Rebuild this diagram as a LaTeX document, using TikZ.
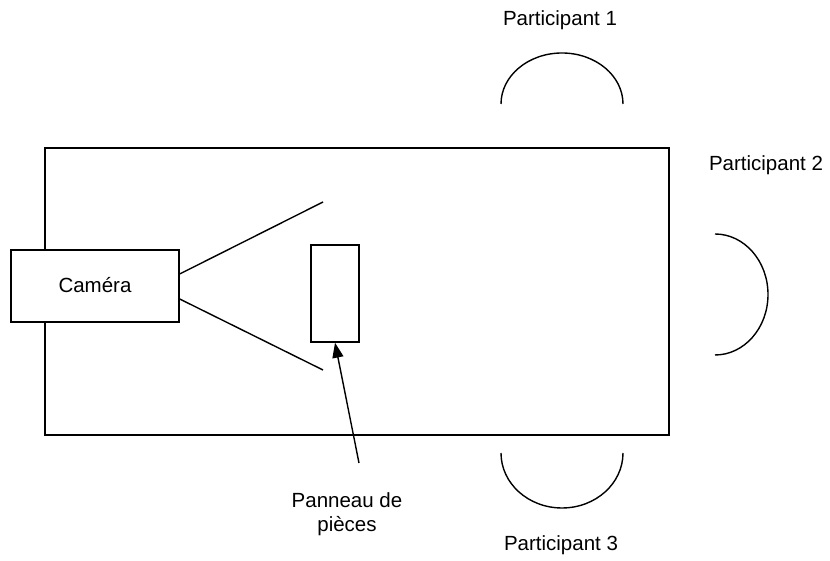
\documentclass[tikz,border=0pt]{standalone}
\usepackage{fontspec}
\setmainfont{Liberation Sans}
\usetikzlibrary{arrows.meta,calc}
\tikzset{
  ln/.style={line width=1.4pt, draw=black},
  box/.style={ln, fill=white, inner sep=0pt},
  lbl/.style={font=\fontsize{20.5}{23.5}\selectfont, inner sep=0pt, align=center},
}
\begin{document}
\begin{tikzpicture}[x=1pt,y=1pt]
\useasboundingbox (0,0) rectangle (830,561);
% table
\draw[ln] (45,126) rectangle (669,413);
% camera
\node[box, minimum width=168pt, minimum height=72pt] (cam) at (95,275) {};
\node[lbl] (camtxt) at (95,276) {Caméra};
% field of view
\coordinate (f1) at (323,359);
\coordinate (f2) at (323,191);
\draw[ln] ($(cam.east)+(0,12)$) -- (f1);
\draw[ln] ($(cam.east)+(0,-13)$) -- (f2);
% panel
\node[box, minimum width=48pt, minimum height=97pt] (pan) at (335,267.5) {};
\coordinate (tail) at (359,98);
\draw[ln, -{Triangle[length=15pt,width=11pt]}] (tail) -- (pan.south);
\node[lbl] (pantxt) at (347,47) {Panneau de\\pièces};
% participants
\draw[ln] (501,457) arc[start angle=180, end angle=0, x radius=61, y radius=51];
\draw[ln] (715,327) arc[start angle=90, end angle=-90, x radius=53, y radius=60.5];
\draw[ln] (501,108) arc[start angle=180, end angle=360, x radius=61, y radius=55];
\node[lbl] (p1) at (560,541) {Participant 1};
\node[lbl] (p2) at (766,396) {Participant 2};
\node[lbl] (p3) at (561,16) {Participant 3};
\end{tikzpicture}
\end{document}
